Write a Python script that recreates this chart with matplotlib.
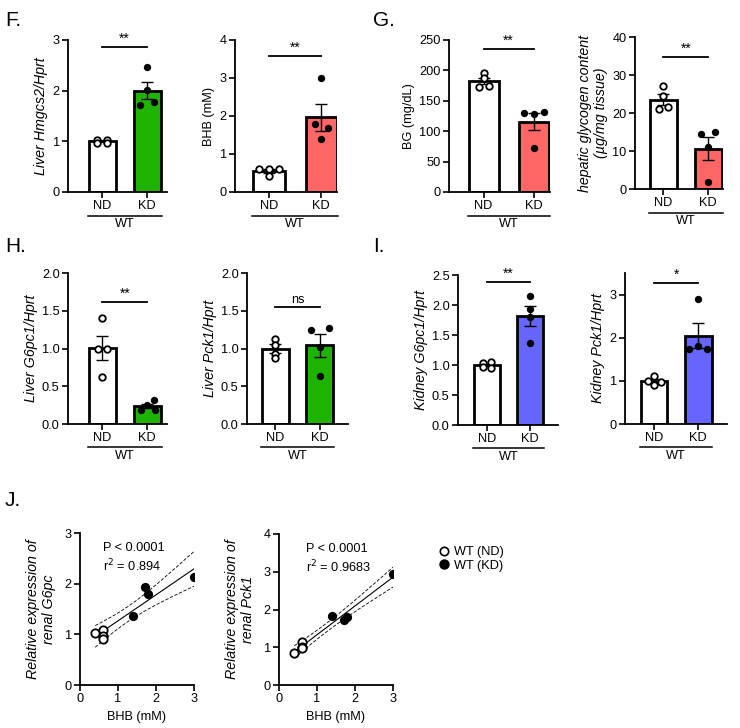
import matplotlib
matplotlib.use("Agg")
import matplotlib.pyplot as plt
from matplotlib.lines import Line2D
import numpy as np

plt.rcParams['font.family'] = ['Liberation Sans', 'DejaVu Sans']

# ---- data ----
groups = ["ND", "KD"]

nd_hmgcs2 = [1.03, 1.03, 0.97, 0.97]
kd_hmgcs2 = [2.47, 2.02, 1.72, 1.78]
nd_bhb = [0.6, 0.6, 0.6, 0.42]
kd_bhb = [3.0, 1.8, 1.68, 1.4]
nd_bg = [195, 188, 172, 175]
kd_bg = [130, 129, 131, 73]
nd_glycogen = [27, 24.5, 21, 21.5]
kd_glycogen = [14.5, 15, 11, 1.8]
nd_liver_g6pc = [1.4, 1.0, 1.0, 0.62]
kd_liver_g6pc = [0.19, 0.25, 0.32, 0.19]
nd_liver_pck1 = [1.13, 1.05, 0.93, 0.87]
kd_liver_pck1 = [1.25, 1.27, 1.02, 0.63]
nd_kidney_g6pc = [1.05, 1.03, 0.97, 0.95]
kd_kidney_g6pc = [2.15, 1.93, 1.8, 1.37]
nd_kidney_pck1 = [1.12, 1.0, 0.98, 0.9]
kd_kidney_pck1 = [2.9, 1.8, 1.75, 1.75]

# panel J (BHB vs renal expression)
bhb_nd = [0.4, 0.6, 0.6, 0.6]
bhb_kd = [1.4, 1.7, 1.8, 3.0]
renal_g6pc_nd = [1.03, 1.08, 0.97, 0.91]
renal_g6pc_kd = [1.36, 1.93, 1.79, 2.14]
renal_pck1_nd = [0.86, 1.13, 1.0, 0.98]
renal_pck1_kd = [1.84, 1.72, 1.79, 2.93]
j1_stats = ["P < 0.0001", "r$^2$ = 0.894"]
j2_stats = ["P < 0.0001", "r$^2$ = 0.9683"]

GREEN = "#1db300"
RED = "#ff6666"
BLUE = "#6666ff"

FS = 9.2

fig = plt.figure(figsize=(7.4, 7.28), dpi=100)


def rect(l, t, r, b):
    return [l / 740, 1 - b / 728, (r - l) / 740, (b - t) / 728]


def style_axes(ax):
    for s in ["top", "right"]:
        ax.spines[s].set_visible(False)
    for s in ["left", "bottom"]:
        ax.spines[s].set_linewidth(1.3)
    ax.tick_params(direction="out", length=4, width=1.2, labelsize=FS, pad=2)


def bar_panel(r, nd, kd, nd_dx, kd_dx, color, ylabel, italic, ylim, yticks, fmt,
              sig_y, sig_txt, xlim):
    ax = fig.add_axes(rect(*r))
    style_axes(ax)
    for i, (vals, dx, c, filled) in enumerate([(nd, nd_dx, "white", False),
                                              (kd, kd_dx, color, True)]):
        vals = np.array(vals, dtype=float)
        m = vals.mean()
        sem = vals.std(ddof=1) / np.sqrt(len(vals))
        ax.bar(i, m, width=0.6, color=c, edgecolor="black", linewidth=2, zorder=2)
        ax.errorbar(i, m, yerr=sem, fmt="none", ecolor="black", elinewidth=1,
                    capsize=4.5, capthick=1, zorder=3)
        xs = i + np.array(dx)
        if filled:
            ax.scatter(xs, vals, s=28, color="black", zorder=4, linewidths=0)
        else:
            ax.scatter(xs, vals, s=22, facecolor="white", edgecolor="black",
                       linewidths=1.3, zorder=4)
    ax.set_xlim(*xlim)
    ax.set_ylim(*ylim)
    ax.set_yticks(yticks)
    ax.set_yticklabels([fmt.format(v) for v in yticks])
    ax.set_xticks([0, 1])
    ax.set_xticklabels(groups, fontsize=FS)
    ax.set_ylabel(ylabel, fontsize=10.3 if italic else FS,
                  style="italic" if italic else "normal", labelpad=3)
    ax.plot([0.0, 1.0], [sig_y, sig_y], color="black", lw=1.3, clip_on=False)
    ax.text(0.5, sig_y + (ylim[1] - ylim[0]) * 0.008, sig_txt, ha="center",
            va="bottom", fontsize=10 if sig_txt != "ns" else FS)
    ax.plot([-0.32, 1.32], [-0.155, -0.155], color="black", lw=1.1,
            transform=ax.get_xaxis_transform(), clip_on=False)
    ax.text(0.5, -0.172, "WT", ha="center", va="top", fontsize=FS,
            transform=ax.get_xaxis_transform())
    return ax


# F
bar_panel((68, 40, 167, 192), nd_hmgcs2, kd_hmgcs2, [-0.11, 0.11, -0.11, 0.11],
          [0, 0, -0.15, 0.14], GREEN, "Liver Hmgcs2/Hprt", True, (0, 3),
          [0, 1, 2, 3], "{:g}", 2.86, "**", (-0.76, 1.44))
bar_panel((235, 40, 337, 192), nd_bhb, kd_bhb, [-0.2, 0, 0.2, 0],
          [0, -0.12, 0.12, 0], RED, "BHB (mM)", False, (0, 4),
          [0, 1, 2, 3, 4], "{:g}", 3.58, "**", (-0.65, 1.3))
# G
bar_panel((449, 40, 550, 192), nd_bg, kd_bg, [0, 0, -0.1, 0.1],
          [-0.2, 0, 0.2, 0], RED, "BG (mg/dL)", False, (0, 250),
          [0, 50, 100, 150, 200, 250], "{:g}", 235, "**", (-0.69, 1.33))
bar_panel((635, 37, 723, 189), nd_glycogen, kd_glycogen, [0, 0, -0.1, 0.1],
          [-0.15, 0.15, 0, 0], RED, "hepatic glycogen content\n(\u00b5g/mg tissue)",
          True, (0, 40), [0, 10, 20, 30, 40], "{:g}", 34.7, "**", (-0.63, 1.33))
# H
bar_panel((68, 273, 167, 424), nd_liver_g6pc, kd_liver_g6pc, [0, -0.1, 0.1, 0],
          [-0.15, 0, 0.15, 0.18], GREEN, "Liver G6pc1/Hprt", True, (0, 2),
          [0, 0.5, 1.0, 1.5, 2.0], "{:.1f}", 1.62, "**", (-0.77, 1.44))
bar_panel((247, 273, 348, 424), nd_liver_pck1, kd_liver_pck1, [0, 0, 0, 0],
          [-0.2, 0.2, 0, 0], GREEN, "Liver Pck1/Hprt", True, (0, 2),
          [0, 0.5, 1.0, 1.5, 2.0], "{:.1f}", 1.55, "ns", (-0.63, 1.63))
# I
bar_panel((458, 275, 558, 425), nd_kidney_g6pc, kd_kidney_g6pc, [0.1, -0.1, -0.1, 0.1],
          [0, 0, 0, 0], BLUE, "Kidney G6pc1/Hprt", True, (0, 2.5),
          [0, 0.5, 1.0, 1.5, 2.0, 2.5], "{:.1f}", 2.39, "**", (-0.67, 1.64))
bar_panel((625, 273, 727, 424), nd_kidney_pck1, kd_kidney_pck1, [0, -0.15, 0.15, 0],
          [0, 0, -0.2, 0.2], BLUE, "Kidney Pck1/Hprt", True, (0, 3.5),
          [0, 1, 2, 3], "{:g}", 3.27, "*", (-0.66, 1.65))


def scatter_panel(r, x_nd, y_nd, x_kd, y_kd, ylabel, ylim, yticks, stats, tpos):
    ax = fig.add_axes(rect(*r))
    style_axes(ax)
    x = np.array(x_nd + x_kd, dtype=float)
    y = np.array(y_nd + y_kd, dtype=float)
    n = len(x)
    b, a = np.polyfit(x, y, 1)
    resid = y - (a + b * x)
    s = np.sqrt((resid ** 2).sum() / (n - 2))
    sxx = ((x - x.mean()) ** 2).sum()
    xx = np.linspace(x.min(), x.max(), 50)
    yy = a + b * xx
    half = 2.447 * s * np.sqrt(1 / n + (xx - x.mean()) ** 2 / sxx)
    ax.plot(xx, yy, color="black", lw=0.8, zorder=2)
    ax.plot(xx, yy + half, color="black", lw=0.6, ls=(0, (4, 2)), zorder=2)
    ax.plot(xx, yy - half, color="black", lw=0.6, ls=(0, (4, 2)), zorder=2)
    ax.scatter(x_nd, y_nd, s=36, facecolor="white", edgecolor="black",
               linewidths=1.3, zorder=3)
    ax.scatter(x_kd, y_kd, s=44, color="black", linewidths=0, zorder=3)
    ax.set_xlim(0, 3)
    ax.set_xticks([0, 1, 2, 3])
    ax.set_ylim(*ylim)
    ax.set_yticks(yticks)
    ax.set_xlabel("BHB (mM)", fontsize=FS, labelpad=4)
    ax.set_ylabel(ylabel, fontsize=10.3, style="italic", labelpad=6)
    ax.text(tpos[0], tpos[1], stats[0], transform=ax.transAxes, fontsize=FS,
            va="center")
    ax.text(tpos[0], tpos[2], stats[1], transform=ax.transAxes, fontsize=FS,
            va="center")
    return ax


scatter_panel((80, 533, 194, 685), bhb_nd, renal_g6pc_nd, bhb_kd, renal_g6pc_kd,
              "Relative expression of\nrenal G6pc", (0, 3), [0, 1, 2, 3],
              j1_stats, (0.2, 0.9, 0.78))
scatter_panel((279, 534, 393, 685), bhb_nd, renal_pck1_nd, bhb_kd, renal_pck1_kd,
              "Relative expression of\nrenal Pck1", (0, 4), [0, 1, 2, 3, 4],
              j2_stats, (0.24, 0.9, 0.78))

handles = [Line2D([], [], ls="none", marker="o", markersize=6, markerfacecolor="white",
                  markeredgecolor="black", markeredgewidth=1.2),
           Line2D([], [], ls="none", marker="o", markersize=6.5, color="black")]
fig.legend(handles, ["WT (ND)", "WT (KD)"], loc="upper left",
           bbox_to_anchor=(430 / 740, 1 - 540 / 728), frameon=False, fontsize=FS,
           handletextpad=0.2, labelspacing=0.1, borderpad=0, handlelength=1.2)

for txt, x, y in [("F.", 5, 20), ("G.", 373, 20), ("H.", 5, 247), ("I.", 373, 247),
                  ("J.", 5, 500)]:
    fig.text(x / 740, 1 - y / 728, txt, fontsize=15, va="center", ha="left")

fig.savefig("out.png", dpi=100)
